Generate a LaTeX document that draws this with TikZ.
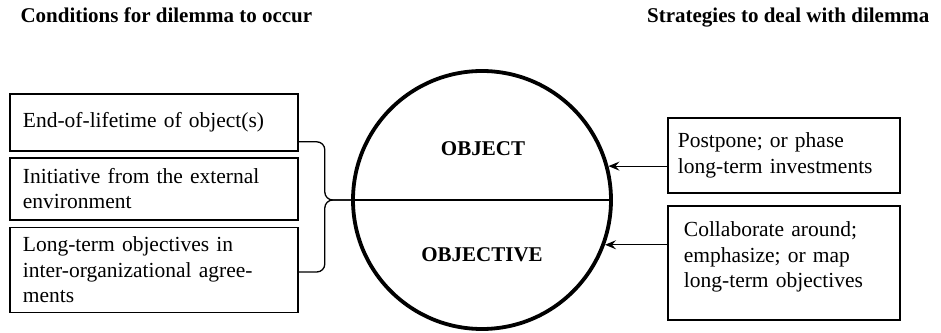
\documentclass[tikz,border=0pt]{standalone}
\usepackage{fontspec}
\setmainfont{Liberation Serif}
\usetikzlibrary{positioning,arrows.meta}

\begin{document}
\begin{tikzpicture}[x=1pt, y=1pt,
		>={Stealth[length=11pt, width=9pt, inset=4pt]},
		every node/.style={font=\fontsize{21.5}{25.5}\selectfont},
		titletext/.style={font=\fontsize{21}{25}\selectfont\bfseries},
		condbox/.style={draw, line width=1.8pt, text width=262pt, inner xsep=13pt, align=left},
		stratbox/.style={draw, line width=1.8pt, align=left}
	]
	\useasboundingbox (0,0) rectangle (941,332);

	\node[titletext, anchor=base west] (condtitle) at (17,309) {Conditions for dilemma to occur};
	\node[titletext, anchor=base east] (strattitle) at (933,309) {Strategies to deal with dilemma};

	% conditions
	\node[condbox, minimum height=57pt, anchor=north west] (c1) at (9,239) {End-of-lifetime of object(s)};
	\node[condbox, minimum height=62pt, below=5pt of c1] (c2) {Initiative from the external\\environment};
	\node[condbox, minimum height=85pt, below=6pt of c2] (c3) {Long-term objectives in\\inter-organizational agree-\\ments};

	% the dilemma
	\node[draw, circle, line width=3.8pt, minimum size=258pt] (circ) at (482,132) {};
	\draw[line width=1.6pt] (circ.west) -- (circ.east);
	\node[font=\fontsize{21}{25}\selectfont\bfseries, anchor=base] (obj) at (483,176) {OBJECT};
	\node[font=\fontsize{21}{25}\selectfont\bfseries, anchor=base] (objv) at (482,71) {OBJECTIVE};

	% strategies
	\node[stratbox, text width=212pt, inner xsep=10pt, minimum height=75pt, anchor=north west] (s1) at (667,215) {Postpone; or phase\\long-term investments};
	\node[stratbox, text width=200pt, inner xsep=16pt, minimum height=114pt, below=11pt of s1] (s2) {Collaborate around;\\emphasize; or map\\long-term objectives\rule[-16pt]{0pt}{0pt}};

	\draw[line width=1.3pt, rounded corners=8pt] ([yshift=10pt]c1.south east) -- ++(26pt,0) |- (circ.west);
	\draw[line width=1.3pt, rounded corners=8pt] ([yshift=-2pt]c3.east) -- ++(26pt,0) |- (circ.west);

	\draw[->, line width=1.2pt] (circ.15 -| s1.west) -- (circ.15);
	\draw[->, line width=1.2pt] (circ.-20 -| s2.west) -- (circ.-20);
\end{tikzpicture}
\end{document}
